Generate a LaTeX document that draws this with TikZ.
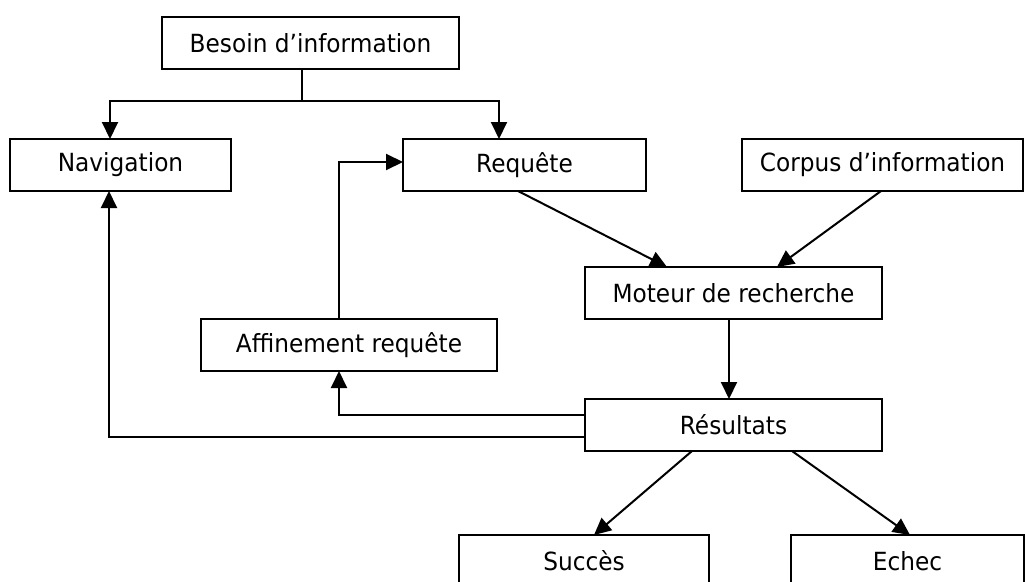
\documentclass[tikz,border=0pt]{standalone}
\usepackage{fontspec}
\setmainfont{DejaVu Sans}[FakeStretch=0.93]
\usetikzlibrary{arrows.meta}
\begin{document}
\begin{tikzpicture}[x=1pt,y=-1pt,
  box/.style={draw, line width=2pt, inner sep=0pt, outer sep=0pt, minimum height=52pt, font=\fontsize{25}{30}\selectfont},
  link/.style={line width=2pt},
  conn/.style={line width=2pt, -{Triangle[length=17pt,width=16pt]}}]
\clip (0,0) rectangle (1025,581);
\fill[white] (0,0) rectangle (1025,581);
\node[box, minimum width=297pt] (besoin) at (310.5,43) {Besoin d’information};
\node[box, minimum width=221pt] (nav) at (120.5,165) {Navigation};
\node[box, minimum width=243pt] (req) at (524.5,165) {Requête};
\node[box, minimum width=281pt] (corpus) at (882.5,165) {Corpus d’information};
\node[box, minimum width=297pt] (moteur) at (733.5,293) {Moteur de recherche};
\node[box, minimum width=296pt] (affin) at (349,345) {Affinement requête};
\node[box, minimum width=297pt] (result) at (733.5,425) {Résultats};
\node[box, minimum width=250pt] (succes) at (584,561) {Succès};
\node[box, minimum width=233pt] (echec) at (907.5,561) {Echec};
\coordinate (split) at (302,101);
\draw[link] ([xshift=-8.5pt]besoin.south) -- (split);
\draw[conn] (split) -| ([xshift=-10.5pt]nav.north);
\draw[conn] (split) -| ([xshift=-25.5pt]req.north);
\draw[conn] ([xshift=-6.5pt]req.south) -- ([xshift=-66.5pt]moteur.north);
\draw[conn] ([xshift=-1.5pt]corpus.south) -- ([xshift=43.5pt]moteur.north);
\draw[conn] ([xshift=-4.5pt]moteur.south) -- ([xshift=-4.5pt]result.north);
\draw[conn] ([yshift=10pt]result.west) -| ([xshift=-10pt]affin.south);
\draw[conn] ([yshift=-12pt]result.west) -| ([xshift=-11.5pt]nav.south);
\draw[conn] ([xshift=-10pt]affin.north) |- ([yshift=3pt]req.west);
\draw[conn] ([xshift=-41.5pt]result.south) -- ([xshift=10pt]succes.north);
\draw[conn] ([xshift=58.5pt]result.south) -- ([xshift=2.5pt]echec.north);
\end{tikzpicture}
\end{document}
